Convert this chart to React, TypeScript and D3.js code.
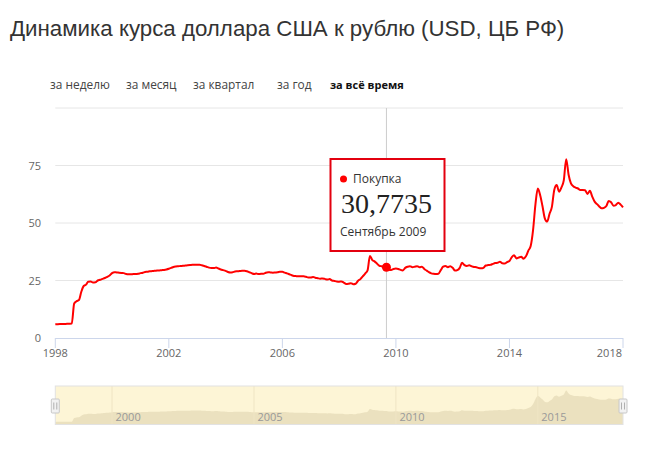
import React from 'react';
import * as d3 from 'd3';

const title = 'Динамика курса доллара США к рублю (USD, ЦБ РФ)';
const tabs = ['за неделю', 'за месяц', 'за квартал', 'за год', 'за всё время'];
const activeTab = 'за всё время';
const startYear = 1998;

// monthly USD/RUB, Jan 1998 .. Jan 2018
const usdRub = [
  // 1998
  5.96, 6.03, 6.07, 6.1, 6.13, 6.16, 6.2, 6.3, 15.0, 16.0, 16.5, 20.0,
  // 1999
  22.6, 23.2, 24.5, 24.6, 24.1, 24.2, 25.0, 25.3, 25.7, 26.1, 26.6, 27.2,
  // 2000
  28.2, 28.6, 28.5, 28.4, 28.3, 28.2, 27.8, 27.7, 27.7, 27.8, 27.8, 27.9,
  // 2001
  28.2, 28.4, 28.7, 28.8, 29.0, 29.1, 29.2, 29.3, 29.4, 29.5, 29.6, 29.8,
  // 2002
  30.1, 30.5, 30.9, 31.1, 31.2, 31.3, 31.4, 31.5, 31.6, 31.7, 31.8, 31.8,
  // 2003
  31.8, 31.8, 31.6, 31.3, 31.0, 30.6, 30.4, 30.4, 30.6, 30.2, 29.8, 29.5,
  // 2004
  29.2, 28.7, 28.5, 28.6, 28.9, 29.0, 29.1, 29.2, 29.2, 29.0, 28.6, 28.2,
  // 2005
  27.8, 28.0, 27.8, 27.9, 27.9, 28.4, 28.6, 28.5, 28.4, 28.5, 28.6, 28.8,
  // 2006
  28.8, 28.4, 28.1, 27.7, 27.3, 27.0, 26.9, 26.8, 26.8, 26.8, 26.6, 26.3,
  // 2007
  26.3, 26.5, 26.2, 26.0, 25.8, 25.9, 25.7, 25.4, 25.6, 25.0, 24.8, 24.6,
  // 2008
  24.5, 24.6, 24.1, 23.5, 23.6, 23.8, 23.4, 23.6, 24.9, 25.6, 26.8, 28.0,
  // 2009
  29.4, 35.7, 34.0, 33.3, 32.4, 31.4, 31.2, 31.0, 30.7735, 29.8, 29.6, 30.0,
  // 2010
  30.2, 30.0, 29.6, 29.4, 30.5, 31.0, 31.2, 30.8, 31.0, 31.2, 30.8, 31.0,
  // 2011
  30.0, 29.3, 28.6, 28.1, 27.9, 27.8, 27.9, 29.5, 31.0, 31.3, 30.8, 31.2,
  // 2012
  30.5, 29.3, 29.5, 30.5, 32.7, 31.7, 31.3, 31.6, 31.2, 30.9, 30.8, 30.4,
  // 2013
  30.3, 30.5, 31.5, 31.7, 31.8, 32.2, 32.6, 32.7, 33.2, 32.5, 32.4, 33.0,
  // 2014
  33.5, 35.2, 36.0, 34.6, 35.0, 35.3, 34.5, 35.5, 38.0, 40.0, 47.0, 58.0,
  // 2015
  65.0, 62.0, 57.5, 52.0, 50.6, 54.0, 57.0, 64.5, 66.5, 63.6, 65.5, 68.5,
  // 2016
  77.7, 71.0, 67.3, 66.0, 65.4, 65.0, 64.3, 64.3, 64.2, 62.6, 64.0, 61.5,
  // 2017
  59.3, 58.2, 57.2, 56.4, 56.6, 57.4, 59.6, 59.0, 57.5, 57.8, 58.8, 58.0,
  // 2018
  56.8,
];

const yTicks = [0, 25, 50, 75, 100];
const yLabelTicks = [0, 25, 50, 75];
const xTickYears = [1998, 2002, 2006, 2010, 2014, 2018];
const navYears = [2000, 2005, 2010, 2015];
const tooltipSeries = 'Покупка';
const tooltipValue = '30,7735';
const tooltipLabel = 'Сентябрь 2009';
const tooltipIndex = 140;

const RED = '#ff0000';
const SANS = '"Open Sans", "DejaVu Sans", sans-serif';

export default function App() {
  const data = usdRub.map((v, i) => ({ date: new Date(startYear, i, 1), v }));

  const left = 55.3;
  const right = 623;
  const top = 108;
  const bottom = 338;

  const x = d3.scaleTime().domain([new Date(1998, 0, 1), new Date(2018, 0, 1)]).range([left, right]);
  const y = d3.scaleLinear().domain([0, 100]).range([bottom, top]);

  const line = d3
    .line<{ date: Date; v: number }>()
    .x((d) => x(d.date))
    .y((d) => y(d.v))
    .curve(d3.curveMonotoneX);

  const navTop = 386;
  const navBottom = 424.5;
  const ny = d3.scaleLinear().domain([0, 88]).range([navBottom, navTop]);
  const area = d3
    .area<{ date: Date; v: number }>()
    .x((d) => x(d.date))
    .y0(navBottom)
    .y1((d) => ny(d.v))
    .curve(d3.curveMonotoneX);

  const tabX = [50, 126, 193, 277, 330];

  const tp = data[tooltipIndex];
  const cx = x(tp.date);
  const cy = y(tp.v);

  return (
    <svg
      width={650}
      height={471}
      style={{ position: 'absolute', left: 0, top: 0, background: '#fff' }}
    >
      <text x={10} y={36} fontFamily='"Liberation Sans", Arial, sans-serif' fontSize={22.3} fill="#333">
        {title}
      </text>

      {tabs.map((t, i) => (
        <text
          key={t}
          x={tabX[i]}
          y={89}
          fontFamily={SANS}
          fontSize={t === activeTab ? 11 : 11.9}
          fontWeight={t === activeTab ? 'bold' : 'normal'}
          fill={t === activeTab ? '#111' : '#444'}
        >
          {t}
        </text>
      ))}

      {/* grid */}
      {yTicks.map((t) =>
        t === 0 ? null : (
          <line key={t} x1={left} x2={right} y1={y(t)} y2={y(t)} stroke="#e6e6e6" strokeWidth={1} />
        )
      )}
      {yLabelTicks.map((t) => (
        <text key={t} x={41} y={y(t) + 4} textAnchor="end" fontFamily={SANS} fontSize={11} fill="#666">
          {t}
        </text>
      ))}

      {/* crosshair */}
      <line x1={cx} x2={cx} y1={top} y2={bottom} stroke="#cccccc" strokeWidth={1} />

      {/* x axis */}
      <line x1={left} x2={right} y1={bottom + 0.5} y2={bottom + 0.5} stroke="#ccd6eb" strokeWidth={1} />
      {xTickYears.map((yr, i) => {
        const px = x(new Date(yr, 0, 1));
        const last = i === xTickYears.length - 1;
        return (
          <g key={yr}>
            <line x1={px} x2={px} y1={bottom} y2={bottom + 10} stroke="#ccd6eb" strokeWidth={1} />
            <text
              x={last ? px - 1 : px}
              y={356.5}
              textAnchor={last ? 'end' : 'middle'}
              fontFamily={SANS}
              fontSize={11}
              fill="#666"
            >
              {yr}
            </text>
          </g>
        );
      })}

      {/* line */}
      <path d={line(data) || ''} fill="none" stroke={RED} strokeWidth={2} strokeLinejoin="round" />
      <circle cx={cx} cy={cy} r={4.5} fill={RED} />

      {/* tooltip */}
      <g>
        <rect x={330.5} y={159} width={114} height={92} fill="#fff" stroke="#e3000f" strokeWidth={2} />
        <circle cx={343.5} cy={179} r={3.5} fill={RED} />
        <text x={353} y={183} fontFamily={SANS} fontSize={12} fill="#333">
          {tooltipSeries}
        </text>
        <text x={341} y={213} fontFamily='"Liberation Serif", "DejaVu Serif", serif' fontSize={28} fill="#222">
          {tooltipValue}
        </text>
        <text x={340} y={236} fontFamily={SANS} fontSize={12} fill="#333">
          {tooltipLabel}
        </text>
      </g>

      {/* navigator */}
      <rect x={left} y={navTop} width={right - left} height={navBottom - navTop} fill="#fdf5d6" />
      <path d={area(data) || ''} fill="#ebe1bf" />
      {navYears.map((yr) => {
        const px = x(new Date(yr, 0, 1));
        return (
          <g key={yr}>
            <line x1={px} x2={px} y1={navTop} y2={navBottom} stroke="#efe5c4" strokeWidth={1} />
            <text x={px + 3.5} y={420.5} fontFamily={SANS} fontSize={11} fill="#999">
              {yr}
            </text>
          </g>
        );
      })}
      <rect
        x={left}
        y={navTop}
        width={right - left}
        height={navBottom - navTop}
        fill="none"
        stroke="#e2e2e2"
        strokeWidth={1}
      />
      {[left, right].map((hx) => (
        <g key={hx}>
          <rect x={hx - 4} y={399} width={8} height={14} rx={1} fill="#f2f2f2" stroke="#c8c8c8" strokeWidth={1} />
          <line x1={hx - 1.5} x2={hx - 1.5} y1={402.5} y2={409.5} stroke="#b0b0b0" strokeWidth={1} />
          <line x1={hx + 1.5} x2={hx + 1.5} y1={402.5} y2={409.5} stroke="#b0b0b0" strokeWidth={1} />
        </g>
      ))}
    </svg>
  );
}
